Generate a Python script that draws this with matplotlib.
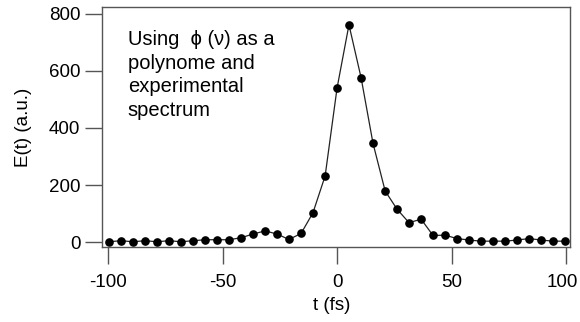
import matplotlib
matplotlib.use("Agg")
import matplotlib.pyplot as plt
import matplotlib.transforms as mtransforms

plt.rcParams['font.family'] = ['Liberation Sans', 'DejaVu Sans']
plt.rcParams['axes.unicode_minus'] = False

# time axis (fs) and field amplitude
t = [-99.6, -94.3, -89.1, -83.8, -78.6, -73.4, -68.1, -62.9, -57.6, -52.4,
     -47.2, -41.9, -36.7, -31.4, -26.2, -21.0, -15.7, -10.5, -5.2, 0.0,
     5.2, 10.5, 15.7, 21.0, 26.2, 31.4, 36.7, 41.9, 47.2, 52.4,
     57.6, 62.9, 68.1, 73.4, 78.6, 83.8, 89.1, 94.3, 99.6]
E = [1, 4.5, 1, 4.5, 1, 4.5, 1, 4.5, 8, 8,
     8, 15, 28, 39, 28, 9, 30, 103, 232, 540,
     762, 576, 346, 179, 115, 68, 80, 23, 24, 12,
     7, 3, 3, 3, 7, 12, 7, 3, 3]

xticks = [-100, -50, 0, 50, 100]
yticks = [0, 200, 400, 600, 800]

fig = plt.figure(figsize=(5.8, 3.22), dpi=100)
ax = fig.add_axes([0.1759, 0.2329, 0.8069, 0.7454])

ax.plot(t, E, '-', color='#222222', lw=0.9, marker='o', ms=5.2,
        mfc='black', mec='black')

ax.set_xlim(-102.6, 101.7)
ax.set_ylim(-17.5, 824.5)
ax.set_xticks(xticks)
ax.set_yticks(yticks)
ax.tick_params(direction='out', length=12.5, width=1, color='#555555',
               labelsize=13.5, pad=3)
ax.tick_params(axis='x', pad=7)
for s in ax.spines.values():
    s.set_color('#555555')
    s.set_linewidth(1)

# nudge the last x label so it stays inside the image
last = ax.get_xticklabels()[-1]
last.set_transform(last.get_transform() +
                   mtransforms.ScaledTranslation(-4 / 100, 0, fig.dpi_scale_trans))

ax.set_xlabel('t (fs)', fontsize=13.5)
ax.set_ylabel('E(t) (a.u.)', fontsize=13.5)
ax.xaxis.set_label_coords(0.491, -0.242)
ax.xaxis.label.set_va('center')
ax.yaxis.set_label_coords(-0.168, 0.5)
ax.yaxis.label.set_va('center')

ax.text(0.055, 0.905, 'Using  \u03d5 (\u03bd) as a\npolynome and\nexperimental\nspectrum',
        transform=ax.transAxes, fontsize=14.5, va='top', ha='left',
        linespacing=1.32)

fig.savefig('out.png', dpi=100)
